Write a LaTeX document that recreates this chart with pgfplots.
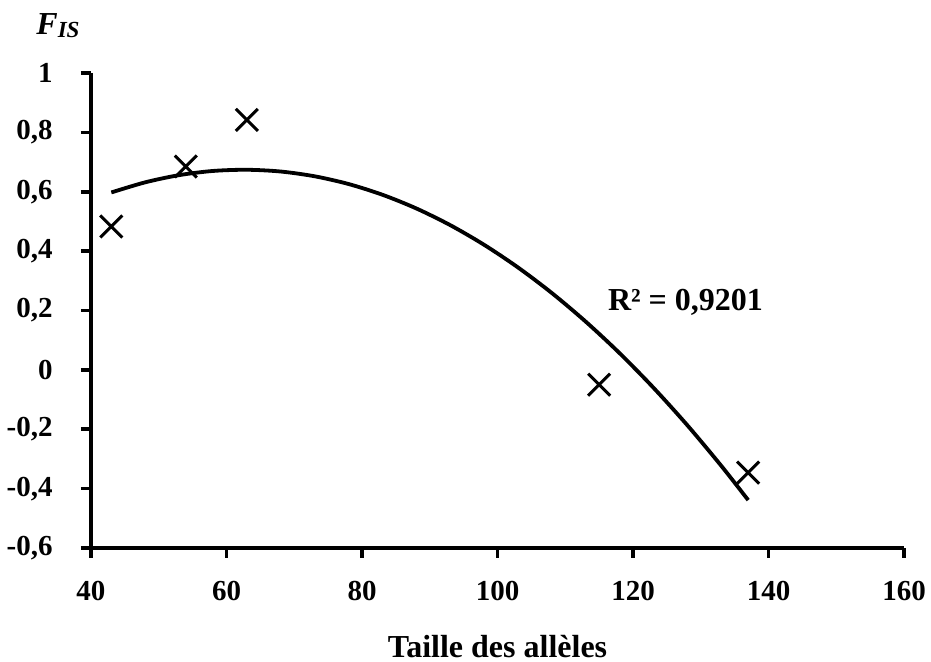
\documentclass[border=0pt]{standalone}
\usepackage{pgfplots}
\pgfplotsset{compat=1.18}
\usepackage{fontspec}
\setmainfont{Liberation Serif}

\begin{document}
\begin{tikzpicture}[font=\fontsize{16}{19}\selectfont\bfseries]
% fixed page frame around the axis box (axis south west sits at the origin)
\useasboundingbox (-45.5pt,-57pt) rectangle (420pt,274pt);
\begin{axis}[
  name=ax,
  scale only axis,
  width=406.5pt, height=237.5pt,
  xmin=40, xmax=160, ymin=-0.6, ymax=1,
  axis x line=bottom, axis y line=left,
  x axis line style={-}, y axis line style={-},
  axis line style={line width=1.8pt, black},
  xtick={40,60,...,160},
  xticklabels={40,60,80,100,120,140,160},
  ytick={-0.6,-0.4,-0.2,0,0.2,0.4,0.6,0.8,1},
  yticklabels={{-0,6},{-0,4},{-0,2},0,{0,2},{0,4},{0,6},{0,8},1},
  tick align=outside,
  major tick length=5pt,
  tick style={line width=1.8pt, black},
  xticklabel style={font=\fontsize{14.5}{17}\selectfont\bfseries, yshift=-8pt},
  yticklabel style={font=\fontsize{14.5}{17}\selectfont\bfseries, anchor=east, inner sep=0pt, xshift=-14pt},
  clip=false,
]
% measured values
\addplot[only marks, mark=x, mark size=7.8pt, mark options={line width=1.5pt, black}]
  coordinates {(43,0.483) (54,0.685) (63,0.842) (115,-0.05) (137,-0.346)};
% second-order polynomial trend line
\addplot[black, line width=1.9pt, smooth]
  coordinates {
    (43,0.5976) (48,0.6317) (53,0.6559) (58,0.6700) (63,0.6740)
    (68,0.6681) (73,0.6521) (78,0.6261) (83,0.5900) (88,0.5439)
    (93,0.4878) (98,0.4216) (103,0.3454) (108,0.2592) (113,0.1629)
    (118,0.0567) (123,-0.0597) (128,-0.1860) (133,-0.3224) (137,-0.4387)};
\node at (axis cs:127.75,0.229) {R² = 0,9201};
\end{axis}
\node at ([xshift=-16.5pt,yshift=23.5pt]ax.north west)
  {\itshape F\raisebox{-1.5pt}{\fontsize{11.5}{13}\selectfont IS}};
\node at ([yshift=-49.5pt]ax.south) {Taille des allèles};
\end{tikzpicture}
\end{document}
